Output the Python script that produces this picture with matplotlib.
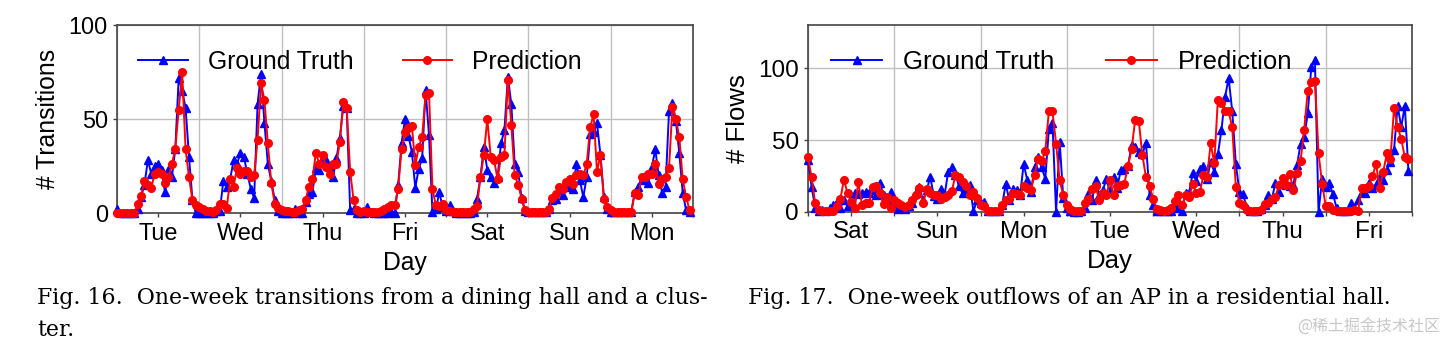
import matplotlib
matplotlib.use('Agg')
import matplotlib.pyplot as plt
import numpy as np

plt.rcParams['font.family'] = ['Liberation Sans', 'DejaVu Sans']

# hourly values, one week (24 points per day)
days_16 = ['Tue', 'Wed', 'Thu', 'Fri', 'Sat', 'Sun', 'Mon']
truth_16 = [
    2, 0, 0, 0, 0, 0, 2, 8.5, 15, 28, 21, 25, 26, 23, 11, 23, 19, 34, 72, 65, 56, 30, 7, 0,
    0, 0, 0, 0, 0, 1, 1, 17, 14, 18, 28, 26, 32, 30, 21, 13, 8, 58, 74, 48, 26, 17, 7, 1,
    0, 0, 0, 0, 2, 0, 0, 6, 10, 11, 24, 23, 29, 28, 24.5, 19, 29, 40, 57, 56, 1.5, 2, 0, 0,
    0, 3, 0.5, 0, 0, 0, 0, 0, 0.5, 0, 15, 37, 50, 41, 32.5, 13.5, 23.5, 29, 65.5, 41.5, 0.5, 2, 11, 3,
    1, 4.5, 1, 0, 0, 0, 0, 0, 0.5, 7.5, 19, 35, 23, 19, 16, 19, 37, 44, 72.5, 58, 26, 22, 8, 1,
    0.5, 0.5, 0.5, 0.5, 0.5, 0.5, 2, 7, 7.6, 12, 9.4, 14, 15, 13, 26, 17.4, 8.5, 19, 42, 43, 47.7, 31, 8.5, 2.3,
    0.5, 0.5, 0.5, 0.5, 0.5, 0.5, 0.5, 11, 14, 17.4, 19, 16, 24.6, 33.8, 20, 10.7, 14, 54, 58.4, 49, 32, 10.7, 1.4, 0.5,
]
pred_16 = [
    0, 0, 0, 0, 0, 0, 5, 9, 17, 15, 13.5, 21, 22, 21, 16, 19, 26, 34, 55, 75, 34, 19, 7, 4,
    3, 2, 1, 1, 0.5, 1.5, 5, 5, 2.5, 18, 14, 24, 21, 22.5, 22.5, 19, 20, 39, 69, 60, 37, 16, 5, 2.5,
    1.5, 1, 1, 0.5, 0.5, 1.5, 2.3, 7, 14, 18, 32, 26, 31, 24.5, 21, 26, 26, 38, 59, 56, 22, 7, 1.5, 0.5,
    1, 0.5, 0.5, 0.5, 0.5, 1, 2, 3.4, 4, 4, 13, 34, 43, 45, 46.5, 25.5, 35, 40.5, 62.5, 64, 13, 4, 3.5, 5,
    1.5, 1, 0.5, 0.5, 0.5, 0.5, 0.5, 0.5, 2, 3.5, 19, 31, 50, 30, 28, 18, 30, 31, 71, 47, 20, 15, 7.7, 1.8,
    0.5, 0.5, 0.5, 0.5, 0.5, 0.5, 2.3, 8, 10, 14, 13, 16.5, 18, 15.5, 20, 21, 20, 26, 45.5, 52.6, 22, 31, 7.6, 3,
    1.4, 0.5, 0.5, 0.5, 0.5, 0.5, 0.5, 10.7, 9.4, 19, 19, 21, 21, 26, 15.6, 18, 19, 23.7, 56.6, 50, 40.6, 18, 8.5, 1.4,
]

days_17 = ['Sat', 'Sun', 'Mon', 'Tue', 'Wed', 'Thu', 'Fri']
truth_17 = [
    36, 17.5, 3, 1, 1.5, 1, 2.5, 5, 7, 3, 8, 4, 9, 13, 12.5, 13, 14, 13, 15.5, 12, 20, 12, 8, 14,
    4, 2, 3, 2, 4, 6, 13, 17.5, 8, 15, 24.5, 11, 9, 16, 12, 28, 31, 26, 18, 13, 16, 19, 0.5, 8,
    6, 7, 1, 0.5, 0.5, 1, 5, 19.5, 8, 16, 15, 12, 33.5, 22, 14, 31, 38, 31, 23, 58, 62, 0, 49, 10,
    3, 1, 0, 0, 1, 3, 12.8, 8, 22, 12, 15, 23, 14, 24.5, 17, 29, 30, 32, 46.5, 45, 42, 40, 48, 12,
    5, 1, 0.5, 0.5, 0.5, 0.5, 6, 3, 0.5, 13, 13, 27, 21.5, 30, 32, 23, 35, 28, 40, 57, 80, 93, 70, 33.5,
    14, 12.5, 3, 0.5, 0.5, 0.5, 2, 5, 11.8, 9, 20, 14, 20, 19, 18, 19, 32.5, 47, 52, 68.5, 101, 105.5, 0, 23,
    17.6, 20, 12.5, 3, 1, 1, 1, 6, 3, 8, 14, 13.5, 20, 17, 19, 24, 22, 29, 35, 43, 74, 59, 74, 28.6,
]
pred_17 = [
    38, 24, 6, 1.5, 0.5, 0.5, 0.5, 1, 4, 9, 22.5, 13, 7, 2.5, 21, 5, 6.5, 6.5, 17.5, 18, 13, 5.5, 10.5, 3,
    8, 6, 5, 3.5, 5, 8.5, 11.5, 17, 6, 16, 13, 12, 11.5, 9, 10.5, 11.5, 14.5, 25.5, 24, 21, 18, 12, 14, 10,
    5, 4, 1, 0.5, 0.5, 1, 5, 8.6, 9, 13.5, 12.5, 11.5, 18, 16.5, 15, 26, 37, 35.5, 42.5, 70, 70, 47.5, 22, 11.5,
    5, 2, 1, 1, 1, 6, 9, 16, 18, 8, 13, 12, 22, 12, 18, 18.6, 19.8, 32, 43.5, 64, 63.5, 39.5, 24.4, 18,
    9.3, 2.3, 1.6, 1, 1.2, 3, 7.4, 11.6, 4.6, 11.6, 10.5, 19.3, 13.3, 14, 25.7, 24.5, 47.7, 33.8, 78, 75.5, 70, 70, 58.8, 17.6,
    6.5, 4.9, 1.4, 0.7, 0.7, 0.7, 1.5, 5.5, 6.5, 8.8, 10.6, 18.8, 23.4, 18.8, 26.4, 15.3, 27, 35.4, 57, 84, 90.5, 91, 41, 19.5,
    4.3, 4.5, 1.4, 0.7, 0.7, 0.7, 0.7, 0.7, 1.4, 0.7, 16.4, 16.4, 18, 25, 33.3, 17, 28, 40.7, 37, 72, 59, 51, 38, 37,
]


def draw(ax, days, truth, pred, ylabel, ymax, leg_x, leg_y, fs):
    x = np.arange(len(truth)) / 24.0
    ax.plot(x, truth, color='#0000ff', marker='^', ms=5.5, lw=1.4,
            label='Ground Truth', clip_on=False, zorder=3)
    ax.plot(x, pred, color='#ff0000', marker='o', ms=5.5, lw=1.4,
            label='Prediction', clip_on=False, zorder=4)
    ax.set_xlim(0, 7)
    ax.set_ylim(0, ymax)
    ax.set_yticks([0, 50, 100])
    ax.set_xticks(np.arange(7) + 0.5)
    ax.set_xticklabels(days)
    ax.set_xticks(np.arange(8), minor=True)
    ax.grid(True, which='minor', axis='x', color='#c0c0c0', lw=1.0)
    ax.grid(True, which='major', axis='y', color='#c0c0c0', lw=1.0)
    ax.tick_params(which='both', direction='out', length=3, width=1, color='#444444',
                   labelsize=fs - 1)
    for s in ax.spines.values():
        s.set_color('#444444')
        s.set_linewidth(1.2)
    ax.set_ylabel(ylabel, fontsize=fs, labelpad=6)
    ax.set_xlabel('Day', fontsize=fs, labelpad=4)
    ax.legend(loc='upper left', bbox_to_anchor=(leg_x, leg_y), borderaxespad=0,
              ncol=2, frameon=False, fontsize=fs, handlelength=2.0,
              handletextpad=0.8, columnspacing=2.0, numpoints=1)


fig = plt.figure(figsize=(14.51, 3.5), dpi=100)
ax1 = fig.add_axes([117 / 1451, 137 / 350, 576 / 1451, 188 / 350])
ax2 = fig.add_axes([808 / 1451, 138 / 350, 604 / 1451, 187 / 350])
draw(ax1, days_16, truth_16, pred_16, '# Transitions', 100, 0.02, 0.922, 17.8)
draw(ax2, days_17, truth_17, pred_17, '# Flows', 130, 0.021, 0.92, 18.5)

cap = dict(fontfamily='DejaVu Serif', fontsize=15.8, va='center', ha='left')
fig.text(37 / 1451, 1 - 298 / 350,
         'Fig. 16.  One-week transitions from a dining hall and a clus-', **cap)
fig.text(37 / 1451, 1 - 330 / 350, 'ter.', **cap)
fig.text(748 / 1451, 1 - 298 / 350,
         'Fig. 17.  One-week outflows of an AP in a residential hall.', **cap)
fig.text(1440 / 1451, 1 - 327 / 350, '@稀土掘金技术社区', fontsize=11.5,
         color='#c8c8c8', ha='right', va='center',
         family=['Noto Sans CJK SC', 'DejaVu Sans'])

fig.savefig('out.png', dpi=100)
